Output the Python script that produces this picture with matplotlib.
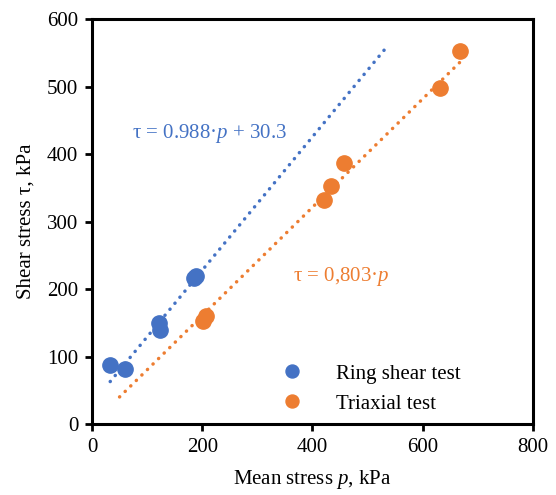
import matplotlib.pyplot as plt
import numpy as np

plt.rcParams['font.family'] = ['Liberation Serif', 'DejaVu Serif']
plt.rcParams['mathtext.fontset'] = 'custom'
plt.rcParams['mathtext.it'] = 'Liberation Serif:italic'
plt.rcParams['mathtext.rm'] = 'Liberation Serif'

# ring shear test
ring_p = [33, 60, 122, 123, 185, 188]
ring_tau = [87, 81, 150, 140, 216, 220]

# triaxial test
tri_p = [201, 206, 420, 434, 457, 631, 668]
tri_tau = [153, 160, 332, 352, 386, 498, 553]

# trend lines
ring_slope, ring_icpt = 0.988, 30.3
ring_range = [33, 532]
tri_slope = 0.803
tri_range = [50, 667]

blue = '#4472C4'
orange = '#ED7D31'


def main():
    fig = plt.figure(figsize=(5.56, 4.95), dpi=100)
    ax = fig.add_axes([0.1655, 0.1434, 0.7931, 0.8182])

    dots = (0, (0.05, 2.2))
    xr = np.array(ring_range, dtype=float)
    ax.plot(xr, ring_slope * xr + ring_icpt, color=blue, linestyle=dots,
            linewidth=2.5, dash_capstyle='round', zorder=2)
    xt = np.array(tri_range, dtype=float)
    ax.plot(xt, tri_slope * xt, color=orange, linestyle=dots,
            linewidth=2.5, dash_capstyle='round', zorder=2)

    ax.plot(ring_p, ring_tau, 'o', color=blue, markersize=11, label='Ring shear test', zorder=3)
    ax.plot(tri_p, tri_tau, 'o', color=orange, markersize=11, label='Triaxial test', zorder=3)

    ax.text(73, 430, r'τ = 0.988·$p$ + 30.3', color=blue, fontsize=15, va='center')
    ax.text(364, 218, r'τ = 0,803·$p$', color=orange, fontsize=15, va='center')

    ax.set_xlim(0, 800)
    ax.set_ylim(0, 600)
    ax.set_xticks(np.arange(0, 801, 200))
    ax.set_yticks(np.arange(0, 601, 100))
    ax.tick_params(direction='out', length=5, width=2, labelsize=15, pad=5)
    for s in ax.spines.values():
        s.set_linewidth(2.2)

    ax.set_xlabel(r'Mean stress $p$, kPa', fontsize=15, labelpad=8)
    ax.set_ylabel('Shear stress τ, kPa', fontsize=15, labelpad=8)

    ax.legend(loc='lower right', bbox_to_anchor=(0.855, 0.005), frameon=False, fontsize=15,
              markerscale=0.85, handletextpad=1.1, labelspacing=0.5, borderaxespad=0)

    fig.savefig('out.png', dpi=100)


if __name__ == "__main__":
    main()
